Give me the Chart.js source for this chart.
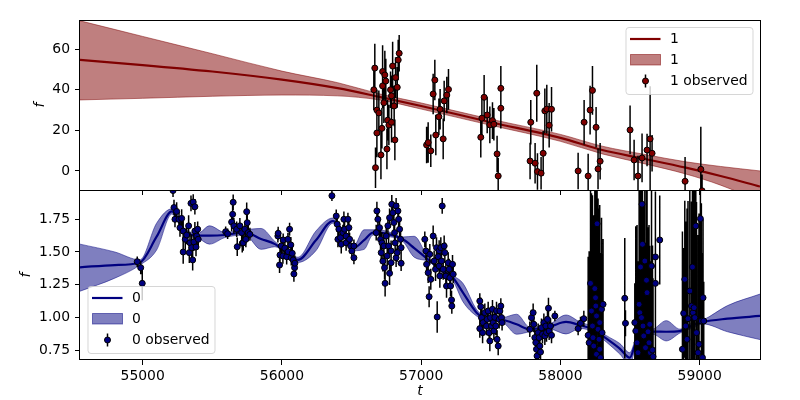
<!DOCTYPE html>
<html>
<head>
<meta charset="utf-8">
<script src="https://cdn.jsdelivr.net/npm/chart.js@4"></script>
<style>
  body { margin: 0; background: #fff; }
  #wrap { position: relative; width: 800px; height: 400px; }
  canvas { position: absolute; left: 0; }
  #bot { top: 190px; }
  #top { top: 0; }
</style>
</head>
<body>
<div id="wrap">
  <canvas id="bot" width="800" height="210"></canvas>
  <canvas id="top" width="800" height="200"></canvas>
</div>
<script>
// shared x axis
const xRange = [54550, 59433];
const xTicks = [55000, 56000, 57000, 58000, 59000];

// ---- series "1" (top panel) ----
const yRange1 = [-9.4, 74.4];
const yTicks1 = [0, 20, 40, 60];
const modelT1 = [54550, 55000, 55500, 56000, 56400, 56700, 57000, 57500, 58000, 58300, 58600, 58900, 59150, 59433];
const mean1  = [54.7, 52.2, 49.0, 45.0, 40.8, 36.5, 32.0, 24.0, 16.3, 10.3, 6.0, 1.6, -2.5, -7.7];
const upper1 = [74.0, 66.3, 57.8, 49.2, 43.5, 38.0, 33.5, 25.5, 18.0, 12.2, 8.2, 4.5, 2.2, 0.0];
const lower1 = [35.0, 35.8, 36.8, 37.4, 37.0, 35.0, 30.5, 22.5, 14.6, 8.4, 3.6, -1.5, -7.0, -15.0];

const obsT1 = [56660, 56667, 56672, 56682, 56696, 56682, 56711, 56718, 56723, 56723, 56732, 56739, 56746, 56754, 56759, 56768, 56780, 56787, 56795, 56806, 56811, 56816, 56828, 56835, 56842, 56787,
  57039, 57050, 57069, 57086, 57098, 57105, 57127, 57136, 57158, 57165, 57184, 57196,
  57428, 57436, 57452, 57474, 57493, 57512, 57522, 57545, 57553, 57572, 57572,
  57782, 57787, 57818, 57830, 57835, 57861, 57876, 57888, 57902, 57919, 57936,
  58127, 58170, 58199, 58213, 58230, 58256, 58270, 58285,
  58500, 58529, 58557, 58586, 58622, 58644, 58658,
  58895, 59008, 59017];
const obsF1 = [40.0, 50.7, 1.6, 30.0, 28.6, 18.7, 7.9, 21.0, 41.9, 49.0, 33.6, 47.3, 44.3, 10.8, 25.0, 22.6, 40.0, 37.0, 51.7, 32.0, 15.3, 46.0, 41.2, 54.7, 58.0, 24.0,
  12.8, 14.0, 9.9, 37.9, 44.8, 17.7, 26.7, 30.4, 15.8, 34.5, 37.4, 40.2,
  16.6, 26.0, 36.3, 27.6, 22.7, 24.8, 23.0, 8.4, -2.5, 30.9, 40.7,
  4.9, 24.0, 3.8, 38.3, -0.3, -1.1, 8.7, 29.6, 30.5, 22.5, 30.4,
  0.0, 24.0, -2.5, 30.0, 39.7, 21.5, 1.0, 4.8,
  20.2, 5.4, -2.5, 6.4, 10.3, 15.8, 8.7,
  -5.1, 0.8, -9.8];
const obsE1 = [10, 12, 10, 10, 11, 12, 12, 10, 11, 13, 10, 12, 11, 10, 10, 10, 9, 10, 12, 10, 10, 10, 10, 10, 9, 10,
  9, 10, 8, 10, 10, 10, 9, 10, 10, 10, 9, 10,
  10, 10, 11, 9, 9, 9, 8, 9, 9, 10, 11,
  9, 11, 10, 14, 9, 8, 11, 11, 12, 11, 11,
  9, 11, 11, 12, 12, 10, 10, 9,
  12, 10, 10, 12, 8, 26, 9,
  12, 21, 8];

// ---- series "0" (bottom panel) ----
const yRange0 = [0.674, 1.974];
const yTicks0 = [0.75, 1.00, 1.25, 1.50, 1.75];
const modelT0 = [54550, 54800, 54980, 55100, 55210, 55300, 55400, 55480, 55590, 55734, 55850, 55950, 56115, 56244, 56366, 56517, 56590, 56654, 56750, 56869, 56950, 57048, 57150, 57228, 57300, 57398, 57469, 57586, 57685, 57780, 57924, 58040, 58140, 58232, 58331, 58426, 58498, 58540, 58600, 58664, 58760, 58858, 58951, 59023, 59200, 59433];
const mean0  = [1.383, 1.40, 1.42, 1.617, 1.81, 1.66, 1.625, 1.625, 1.63, 1.65, 1.60, 1.56, 1.44, 1.59, 1.737, 1.533, 1.59, 1.648, 1.64, 1.597, 1.53, 1.444, 1.36, 1.303, 1.19, 1.036, 0.99, 0.98, 0.947, 0.909, 0.93, 0.965, 0.94, 0.909, 0.837, 0.761, 0.692, 0.80, 0.88, 0.891, 0.89, 0.895, 0.94, 0.965, 0.99, 1.011];
const upper0 = [1.56, 1.50, 1.44, 1.72, 1.83, 1.68, 1.645, 1.70, 1.65, 1.67, 1.68, 1.58, 1.46, 1.66, 1.76, 1.55, 1.67, 1.67, 1.66, 1.615, 1.62, 1.46, 1.38, 1.32, 1.26, 1.06, 1.005, 1.0, 1.024, 0.925, 0.95, 1.018, 0.965, 0.93, 0.86, 0.80, 0.73, 0.83, 0.90, 0.91, 0.975, 0.91, 0.96, 0.98, 1.09, 1.178];
const lower0 = [1.20, 1.30, 1.40, 1.515, 1.79, 1.64, 1.605, 1.56, 1.61, 1.63, 1.52, 1.54, 1.42, 1.51, 1.72, 1.51, 1.52, 1.63, 1.62, 1.58, 1.46, 1.43, 1.34, 1.28, 1.12, 1.01, 0.975, 0.96, 0.871, 0.89, 0.91, 0.873, 0.915, 0.89, 0.81, 0.72, 0.64, 0.77, 0.86, 0.87, 0.82, 0.88, 0.92, 0.95, 0.89, 0.83];

const obsT0 = [54961, 54986, 54997,
  55218, 55232, 55225, 55244, 55261, 55280, 55268, 55291, 55291, 55306, 55316, 55330, 55340, 55335, 55352, 55347, 55359, 55363, 55375, 55375, 55368, 55383, 55388, 55395, 55399,
  55596, 55610, 55650, 55646, 55639, 55655, 55675, 55679, 55698, 55711, 55715, 55722, 55734, 55747, 55751, 55758, 55741, 55770,
  55971, 55973, 55983, 55986, 55995, 56007, 56009, 56021, 56034, 56043, 56045, 56055, 56064, 56067, 56074, 56081, 56086, 56091, 56093,
  56359,
  56390, 56397, 56402, 56409, 56421, 56426, 56438, 56445, 56450, 56461, 56461, 56474, 56481, 56486, 56493, 56502, 56517, 56517,
  56677, 56682, 56689, 56701, 56708, 56713, 56718, 56725, 56732, 56737, 56741, 56749, 56756, 56761, 56766, 56773, 56773, 56784, 56784, 56789, 56797, 56804, 56809, 56813, 56820, 56820, 56828, 56833, 56838, 56845, 56852, 56856, 56856,
  57026, 57034, 57039, 57050, 57057, 57062, 57069, 57086, 57093, 57103, 57110, 57115, 57122, 57129, 57129, 57134, 57141, 57146, 57151, 57158, 57165, 57170, 57177, 57182, 57194, 57201, 57206, 57211, 57218, 57220, 57225, 57230,
  57421, 57421, 57428, 57433, 57441, 57445, 57457, 57469, 57474, 57481, 57488, 57493, 57498, 57505, 57512, 57517, 57522, 57529, 57536, 57541, 57545, 57553, 57560, 57565, 57572, 57577, 57581,
  57780, 57792, 57804, 57809, 57816, 57823, 57828, 57832, 57840, 57847, 57852, 57857, 57864, 57871, 57881, 57888, 57895, 57900, 57907, 57914, 57919, 57929, 57936, 57960,
  58127, 58144, 58168, 58199, 58206, 58216, 58223, 58230, 58234, 58239, 58247, 58252, 58254, 58259, 58259, 58263, 58270, 58277, 58282, 58282, 58287, 58295, 58299, 58306,
  58462, 58467,
  58534, 58541, 58550, 58557, 58565, 58570, 58575, 58582, 58586, 58589, 58593, 58598, 58606, 58611, 58618, 58622, 58629, 58636, 58641, 58646, 58654, 58661, 58665, 58682, 58682, 58713,
  58876, 58885, 58893, 58900, 58909, 58916, 58929, 58941, 58948, 58952, 58960, 58965, 58972, 58977, 58988, 58995, 59005, 59012, 59020, 59024, 59029];
const obsF0 = [1.426, 1.38, 1.26,
  1.97, 1.75, 1.84, 1.81, 1.75, 1.757, 1.686, 1.66, 1.50, 1.597, 1.63, 1.70, 1.57, 1.495, 1.533, 1.872, 1.439, 1.882, 1.846, 1.66, 1.577, 1.538, 1.622, 1.674, 1.597,
  1.655, 1.64, 1.88, 1.788, 1.729, 1.70, 1.674, 1.54, 1.70, 1.648, 1.567, 1.57, 1.674, 1.808, 1.724, 1.648, 1.597, 1.635,
  1.622, 1.643, 1.40, 1.477, 1.546, 1.47, 1.592, 1.53, 1.464, 1.597, 1.502, 1.674, 1.554, 1.456, 1.49, 1.439, 1.332, 1.38, 1.414,
  1.93,
  1.775, 1.712, 1.597, 1.674, 1.61, 1.559, 1.648, 1.75, 1.674, 1.622, 1.57, 1.75, 1.686, 1.597, 1.546, 1.508, 1.546, 1.456,
  1.648, 1.814, 1.75, 1.686, 1.597, 1.495, 1.57, 1.43, 1.546, 1.38, 1.26, 1.622, 1.47, 1.70, 1.546, 1.762, 1.337, 1.418, 1.508, 1.865, 1.80, 1.725, 1.648, 1.57, 1.852, 1.456, 1.495, 1.814, 1.75, 1.674, 1.597, 1.533, 1.414,
  1.597, 1.508, 1.406, 1.342, 1.158, 1.482, 1.291, 1.622, 1.431, 1.368, 1.533, 1.003, 1.464, 1.393, 1.51, 1.316, 1.533, 1.431, 1.852, 1.368, 1.546, 1.495, 1.316, 1.24, 1.418, 1.368, 1.303, 1.24, 1.133, 1.087, 1.406, 1.33,
  1.125, 0.914, 1.082, 0.998, 0.883, 0.96, 1.036, 0.934, 0.985, 1.049, 0.883, 0.82, 0.998, 0.934, 1.062, 0.96, 0.896, 1.0, 0.934, 1.049, 0.832, 0.781, 0.985, 1.049, 1.087, 0.998, 0.96,
  0.909, 0.998, 1.036, 0.947, 0.845, 0.807, 0.756, 0.705, 0.883, 0.845, 0.781, 0.735, 0.921, 0.871, 0.96, 0.858, 0.934, 0.883, 0.985, 1.07, 0.896, 0.934, 0.863, 1.011,
  0.914, 0.955, 0.99, 0.863, 0.806, 1.26, 1.049, 0.934, 0.845, 0.781, 1.22, 1.15, 1.087, 1.011, 0.718, 1.716, 0.909, 0.832, 0.96, 0.756, 0.692, 1.062, 0.883, 1.10,
  1.146, 0.955,
  0.96, 0.896, 0.806, 0.73, 1.10, 1.036, 1.385, 0.998, 1.865, 1.559, 0.934, 0.858, 1.431, 0.768, 1.284, 1.189, 0.89, 0.806, 0.947, 0.73, 1.393, 0.75, 0.70, 1.462, 1.26, 1.592,
  0.756, 1.031, 1.291, 0.934, 0.832, 0.99, 1.202, 1.087, 1.385, 1.036, 1.074, 0.998, 1.699, 0.883, 0.73, 0.794, 1.755, 0.972, 0.692, 1.15, 0.972];
const obsE0 = [0.04, 0.05, 0.13,
  0.05, 0.06, 0.06, 0.07, 0.06, 0.07, 0.07, 0.08, 0.09, 0.08, 0.07, 0.08, 0.08, 0.08, 0.1, 0.06, 0.08, 0.06, 0.06, 0.07, 0.07, 0.07, 0.06, 0.06, 0.06,
  0.04, 0.04, 0.06, 0.07, 0.07, 0.06, 0.06, 0.07, 0.06, 0.07, 0.07, 0.06, 0.06, 0.07, 0.06, 0.06, 0.06, 0.05,
  0.05, 0.05, 0.06, 0.07, 0.06, 0.06, 0.05, 0.06, 0.06, 0.05, 0.06, 0.05, 0.06, 0.06, 0.06, 0.06, 0.06, 0.06, 0.06,
  0.04,
  0.05, 0.06, 0.06, 0.06, 0.06, 0.07, 0.06, 0.06, 0.06, 0.06, 0.06, 0.05, 0.06, 0.05, 0.06, 0.05, 0.05, 0.05,
  0.06, 0.07, 0.07, 0.07, 0.08, 0.08, 0.08, 0.08, 0.08, 0.09, 0.1, 0.07, 0.08, 0.07, 0.08, 0.07, 0.09, 0.08, 0.08, 0.07, 0.07, 0.07, 0.07, 0.07, 0.06, 0.07, 0.07, 0.06, 0.06, 0.06, 0.06, 0.06, 0.06,
  0.06, 0.07, 0.07, 0.08, 0.08, 0.08, 0.08, 0.08, 0.08, 0.09, 0.08, 0.12, 0.08, 0.09, 0.08, 0.09, 0.08, 0.08, 0.06, 0.08, 0.08, 0.08, 0.09, 0.09, 0.08, 0.08, 0.08, 0.08, 0.07, 0.06, 0.07, 0.07,
  0.06, 0.07, 0.07, 0.07, 0.08, 0.07, 0.07, 0.07, 0.07, 0.07, 0.07, 0.08, 0.07, 0.07, 0.07, 0.07, 0.07, 0.07, 0.07, 0.07, 0.07, 0.07, 0.07, 0.06, 0.06, 0.06, 0.06,
  0.06, 0.06, 0.07, 0.06, 0.06, 0.07, 0.07, 0.07, 0.07, 0.07, 0.07, 0.07, 0.07, 0.07, 0.07, 0.07, 0.07, 0.07, 0.07, 0.08, 0.07, 0.06, 0.06, 0.04,
  0.05, 0.05, 0.06, 0.6, 0.7, 0.8, 0.9, 1.0, 0.9, 1.0, 0.8, 0.9, 1.0, 1.0, 0.9, 0.8, 1.0, 1.0, 0.9, 0.9, 0.8, 0.7, 0.6, 0.5,
  0.46, 0.1,
  0.3, 0.8, 0.9, 0.7, 1.0, 0.9, 1.0, 1.0, 0.6, 1.0, 0.9, 1.0, 0.9, 0.8, 1.0, 0.9, 0.8, 0.9, 0.6, 0.7, 1.0, 0.8, 0.6, 0.5, 0.7, 0.34,
  0.9, 0.5, 0.6, 0.8, 1.0, 0.9, 1.0, 0.8, 0.9, 1.0, 0.9, 1.0, 0.7, 1.0, 0.9, 1.0, 0.8, 0.9, 0.8, 0.6, 0.3];

Chart.defaults.font.family = '"DejaVu Sans", sans-serif';
Chart.defaults.font.size = 13.9;
Chart.defaults.color = '#000';

function drawLegend(ctx, bx, by, cfg) {
  ctx.save();
  ctx.beginPath();
  ctx.roundRect(bx + 0.5, by + 0.5, 127, 67, 3);
  ctx.fillStyle = 'rgba(255,255,255,0.8)';
  ctx.fill();
  ctx.strokeStyle = 'rgba(204,204,204,0.8)';
  ctx.lineWidth = 1;
  ctx.stroke();
  // line handle
  ctx.strokeStyle = cfg.color;
  ctx.lineWidth = 2.2;
  ctx.beginPath();
  ctx.moveTo(bx + 4.5, by + 12);
  ctx.lineTo(bx + 35, by + 12);
  ctx.stroke();
  // band handle
  ctx.fillStyle = cfg.band;
  ctx.fillRect(bx + 5, by + 27.5, 30, 10.5);
  ctx.strokeStyle = cfg.band;
  ctx.lineWidth = 1;
  ctx.strokeRect(bx + 5, by + 27.5, 30, 10.5);
  // observed handle
  const mx = bx + 20, my = by + 54;
  ctx.strokeStyle = '#000';
  ctx.lineWidth = 1.5;
  ctx.beginPath();
  ctx.moveTo(mx, my - 6.5);
  ctx.lineTo(mx, my + 6.5);
  ctx.stroke();
  ctx.beginPath();
  ctx.arc(mx, my, 3, 0, Math.PI * 2);
  ctx.fillStyle = cfg.color;
  ctx.fill();
  ctx.lineWidth = 1;
  ctx.stroke();
  // labels
  ctx.fillStyle = '#000';
  ctx.font = '13.9px "DejaVu Sans"';
  ctx.textBaseline = 'middle';
  ctx.textAlign = 'left';
  ctx.fillText(cfg.name, bx + 44.5, by + 12.5);
  ctx.fillText(cfg.name, bx + 44.5, by + 33);
  ctx.fillText(cfg.name + ' observed', bx + 44.5, by + 54);
  ctx.restore();
}

function panel(canvasId, cfg) {
  const pts = cfg.obsT.map((t, i) => ({x: t, y: cfg.obsF[i]}));
  const curve = ys => cfg.modelT.map((t, i) => ({x: t, y: ys[i]}));

  const decor = {
    id: 'decor',
    beforeDatasetDraw(chart, args) {
      if (args.index !== 3) return;
      // error bars under the observed points
      const {ctx, chartArea: a, scales: {x, y}} = chart;
      ctx.save();
      ctx.beginPath();
      ctx.rect(a.left, a.top, a.right - a.left, a.bottom - a.top);
      ctx.clip();
      ctx.strokeStyle = '#000';
      ctx.lineWidth = 1.5;
      ctx.beginPath();
      cfg.obsT.forEach((t, i) => {
        const px = x.getPixelForValue(t);
        ctx.moveTo(px, y.getPixelForValue(cfg.obsF[i] - cfg.obsE[i]));
        ctx.lineTo(px, y.getPixelForValue(cfg.obsF[i] + cfg.obsE[i]));
      });
      ctx.stroke();
      ctx.restore();
    },
    afterDraw(chart) {
      const {ctx, chartArea: a} = chart;
      ctx.save();
      ctx.strokeStyle = '#000';
      ctx.lineWidth = 1;
      ctx.strokeRect(Math.round(a.left) - 0.5, Math.round(a.top) + 0.5,
        Math.round(a.right - a.left) + 1, Math.round(a.bottom - a.top) - 1 + (cfg.xLabel ? 0 : 1));
      // y label
      ctx.fillStyle = '#000';
      ctx.font = 'italic 13.9px "DejaVu Sans"';
      ctx.textAlign = 'center';
      ctx.textBaseline = 'middle';
      ctx.translate(cfg.yLabelX, (a.top + a.bottom) / 2);
      ctx.rotate(-Math.PI / 2);
      ctx.fillText('f', 0, 0);
      ctx.restore();
      if (cfg.xLabel) {
        ctx.save();
        ctx.fillStyle = '#000';
        ctx.font = 'italic 13.9px "DejaVu Sans"';
        ctx.textAlign = 'center';
        ctx.textBaseline = 'middle';
        ctx.fillText(cfg.xLabel, (a.left + a.right) / 2, a.bottom + 31.5);
        ctx.restore();
      }
      const lx = cfg.legendLeft ? a.left + 7.5 : a.right - 7 - 127.5;
      const ly = cfg.legendLeft ? a.bottom - 6.5 - 67.5 : a.top + 7;
      drawLegend(ctx, lx, ly, cfg);
    }
  };

  // keep label overhang from shrinking the plot area
  const noPad = s => { s.paddingTop = 0; s.paddingBottom = 0; s.paddingLeft = 0; s.paddingRight = 0; };

  const smooth = {pointRadius: 0, cubicInterpolationMode: 'monotone'};
  return new Chart(document.getElementById(canvasId), {
    type: 'line',
    data: {
      datasets: [
        {...smooth, data: curve(cfg.upper), borderColor: cfg.band, borderWidth: 1, backgroundColor: cfg.band, fill: '+1', order: 3},
        {...smooth, data: curve(cfg.lower), borderColor: cfg.band, borderWidth: 1, fill: false, order: 3},
        {...smooth, data: curve(cfg.mean), borderColor: cfg.color, borderWidth: 2.2, fill: false, order: 2},
        {data: pts, showLine: false, pointRadius: 3, pointHoverRadius: 3, pointBorderWidth: 1,
         pointBackgroundColor: cfg.color, pointBorderColor: '#000', order: 1}
      ]
    },
    options: {
      responsive: false,
      animation: false,
      devicePixelRatio: 1,
      layout: {autoPadding: false, padding: {left: 0, right: 40, top: cfg.padTop, bottom: 0}},
      plugins: {legend: {display: false}, tooltip: {enabled: false}},
      scales: {
        x: {
          type: 'linear', min: xRange[0], max: xRange[1],
          afterBuildTicks: s => { s.ticks = xTicks.map(v => ({value: v})); },
          afterFit: s => { s.height = cfg.xHeight; noPad(s); },
          ticks: {display: !!cfg.xLabel, padding: 3, maxRotation: 0, autoSkip: false, callback: v => String(v)},
          grid: {drawOnChartArea: false, drawTicks: true, tickLength: 5, color: '#000'},
          border: {display: false}
        },
        y: {
          type: 'linear', min: cfg.yRange[0], max: cfg.yRange[1],
          afterBuildTicks: s => { s.ticks = cfg.yTicks.map(v => ({value: v})); },
          afterFit: s => { s.width = 80; noPad(s); },
          ticks: {padding: 5, autoSkip: false, callback: cfg.fmt},
          grid: {drawOnChartArea: false, drawTicks: true, tickLength: 5, color: '#000'},
          border: {display: false}
        }
      }
    },
    plugins: [decor]
  });
}

panel('bot', {
  name: '0', color: '#000080', band: 'rgba(0,0,128,0.5)',
  modelT: modelT0, mean: mean0, upper: upper0, lower: lower0,
  obsT: obsT0, obsF: obsF0, obsE: obsE0,
  yRange: yRange0, yTicks: yTicks0, fmt: v => v.toFixed(2),
  padTop: 0, xHeight: 40, xLabel: 't', yLabelX: 26, legendLeft: true
});

panel('top', {
  name: '1', color: '#800000', band: 'rgba(128,0,0,0.5)',
  modelT: modelT1, mean: mean1, upper: upper1, lower: lower1,
  obsT: obsT1, obsF: obsF1, obsE: obsE1,
  yRange: yRange1, yTicks: yTicks1, fmt: v => String(v),
  padTop: 20, xHeight: 10, xLabel: '', yLabelX: 40, legendLeft: false
});
</script>
</body>
</html>
